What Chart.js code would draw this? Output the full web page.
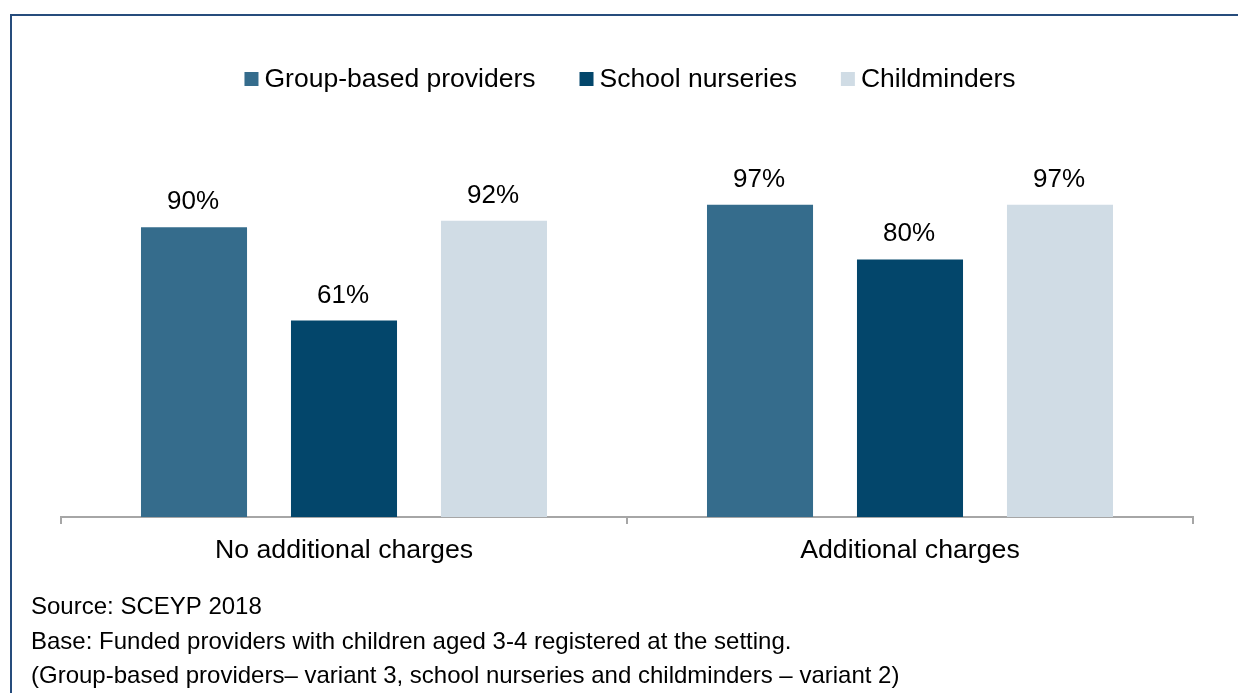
<!DOCTYPE html>
<html>
<head>
<meta charset="utf-8">
<script src="https://cdn.jsdelivr.net/npm/chart.js@4/dist/chart.umd.min.js"></script>
<style>
  html, body { margin: 0; padding: 0; background: #fff; }
  #wrap { width: 1238px; height: 693px; position: relative; }
</style>
</head>
<body>
<div id="wrap"><canvas id="chart"></canvas></div>
<script>
// Categories and series values (percent)
const categories = ['No additional charges', 'Additional charges'];
const seriesNames = ['Group-based providers', 'School nurseries', 'Childminders'];
const groupBased = [90, 97];
const schoolNurseries = [61, 80];
const childminders = [92, 97];
const seriesColors = ['#356c8c', '#03466b', '#d0dce5'];
const footerLines = [
  'Source: SCEYP 2018',
  'Base: Funded providers with children aged 3-4 registered at the setting.',
  '(Group-based providers\u2013 variant 3, school nurseries and childminders \u2013 variant 2)'
];

const FONT = '"Liberation Sans", Arial, sans-serif';

// Frame lines, legend and source notes
const decorations = {
  id: 'decorations',
  afterDraw(chart) {
    const ctx = chart.ctx;
    ctx.save();
    // frame
    ctx.strokeStyle = '#264c7c';
    ctx.lineWidth = 2;
    ctx.beginPath();
    ctx.moveTo(11, 693);
    ctx.lineTo(11, 15);
    ctx.lineTo(1238, 15);
    ctx.stroke();

    // legend
    ctx.font = '26.5px ' + FONT;
    ctx.textBaseline = 'alphabetic';
    ctx.textAlign = 'left';
    const box = 14, gapText = 6, gapItem = 44;
    const widths = chart.data.datasets.map(d => ctx.measureText(d.label).width);
    const total = widths.reduce((a, w) => a + box + gapText + w, 0) + gapItem * (widths.length - 1);
    let x = 630 - total / 2;
    chart.data.datasets.forEach((d, i) => {
      ctx.fillStyle = d.backgroundColor;
      ctx.fillRect(x, 72, box, box);
      ctx.fillStyle = '#000';
      ctx.fillText(d.label, x + box + gapText, 87);
      x += box + gapText + widths[i] + gapItem;
    });

    // footer notes
    ctx.font = '24px ' + FONT;
    ctx.fillStyle = '#000';
    const baselines = [614, 649, 683];
    footerLines.forEach((t, i) => ctx.fillText(t, 31, baselines[i]));
    ctx.restore();
  }
};

// Value labels above each bar
const valueLabels = {
  id: 'valueLabels',
  afterDatasetsDraw(chart) {
    const ctx = chart.ctx;
    ctx.save();
    ctx.font = '26px ' + FONT;
    ctx.fillStyle = '#000';
    ctx.textAlign = 'center';
    ctx.textBaseline = 'alphabetic';
    chart.data.datasets.forEach((d, di) => {
      chart.getDatasetMeta(di).data.forEach((bar, i) => {
        ctx.fillText(d.data[i] + '%', bar.x - 1, bar.y - 18);
      });
    });
    ctx.restore();
  }
};

new Chart(document.getElementById('chart'), {
  type: 'bar',
  data: {
    labels: categories,
    datasets: [
      { label: seriesNames[0], data: groupBased, backgroundColor: seriesColors[0] },
      { label: seriesNames[1], data: schoolNurseries, backgroundColor: seriesColors[1] },
      { label: seriesNames[2], data: childminders, backgroundColor: seriesColors[2] }
    ]
  },
  options: {
    responsive: true,
    maintainAspectRatio: false,
    animation: false,
    layout: { padding: { left: 61, right: 45, top: 195, bottom: 126 } },
    datasets: {
      bar: { categoryPercentage: 0.795, barPercentage: 0.707 }
    },
    plugins: {
      legend: { display: false },
      tooltip: { enabled: false }
    },
    scales: {
      y: { display: false, min: 0, max: 100 },
      x: {
        offset: true,
        afterFit(scale) { scale.height = 50; },
        grid: {
          display: true,
          drawOnChartArea: false,
          drawTicks: true,
          tickLength: 7,
          color: '#a6a6a6',
          lineWidth: 2,
          offset: true
        },
        border: { display: true, color: '#a6a6a6', width: 2 },
        ticks: {
          color: '#000',
          padding: 11,
          font: { family: FONT, size: 26.7 }
        }
      }
    }
  },
  plugins: [decorations, valueLabels]
});
</script>
</body>
</html>
